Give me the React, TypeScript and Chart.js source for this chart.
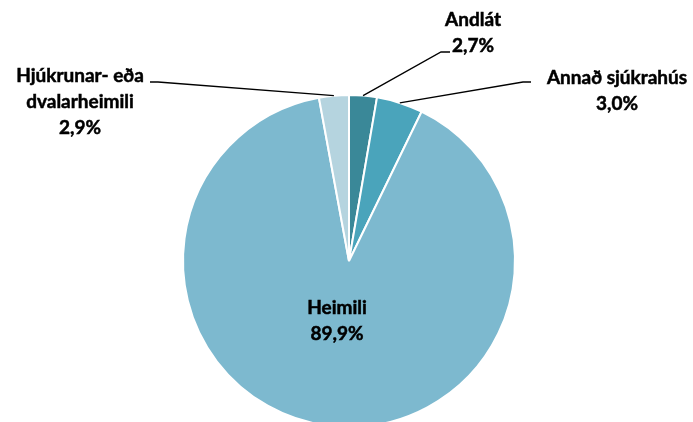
import React, { useEffect, useRef } from "react";
import { Chart, registerables } from "chart.js";

Chart.register(...registerables);

const categories = ["Andlát", "Annað sjúkrahús", "Heimili", "Hjúkrunar- eða dvalarheimili"];
const values = [2.7, 4.5, 89.9, 2.9];
const valueLabels = ["2,7%", "3,0%", "89,9%", "2,9%"];
const labelLines = [["Andlát"], ["Annað sjúkrahús"], ["Heimili"], ["Hjúkrunar- eða", "dvalarheimili"]];
const colors = ["#3a8898", "#4aa4bb", "#7db9cf", "#b5d4df"];

// layout: label block centre (dx, dy from pie centre), elbow & end of leader line
const layout = [
  { tx: 124, ty: -228, line: true, elbow: [92, -209], end: [101, -209] },
  { tx: 268, ty: -170, line: true, elbow: [174, -179], end: [182, -179] },
  { tx: -12, ty: 60, line: false, elbow: [0, 0], end: [0, 0] },
  { tx: -269, ty: -159, line: true, elbow: [-191, -179], end: [-199, -179] },
];

const FONT = "bold 19px Lato, 'Open Sans', sans-serif";
const LINE_H = 26;

const labelPlugin = {
  id: "pieLabels",
  afterDraw(chart: any) {
    const ctx = chart.ctx;
    const meta = chart.getDatasetMeta(0);
    ctx.save();
    meta.data.forEach((arc: any, i: number) => {
      const cx = arc.x;
      const cy = arc.y;
      const r = arc.outerRadius;
      const mid = (arc.startAngle + arc.endAngle) / 2;
      const L = layout[i];
      if (L.line) {
        ctx.beginPath();
        ctx.strokeStyle = "#000";
        ctx.lineWidth = 1.3;
        ctx.moveTo(cx + Math.cos(mid) * r, cy + Math.sin(mid) * r);
        ctx.lineTo(cx + L.elbow[0], cy + L.elbow[1]);
        ctx.lineTo(cx + L.end[0], cy + L.end[1]);
        ctx.stroke();
      }
      const lines = [...labelLines[i], valueLabels[i]];
      ctx.font = FONT;
      ctx.fillStyle = "#000";
      ctx.strokeStyle = "#000";
      ctx.lineWidth = 0.5;
      ctx.textAlign = "center";
      ctx.textBaseline = "middle";
      const startY = cy + L.ty - ((lines.length - 1) * LINE_H) / 2;
      lines.forEach((t, k) => {
        ctx.fillText(t, cx + L.tx, startY + k * LINE_H);
        ctx.strokeText(t, cx + L.tx, startY + k * LINE_H);
      });
    });
    ctx.restore();
  },
};

export default function App() {
  const ref = useRef<HTMLCanvasElement>(null);
  useEffect(() => {
    const chart = new Chart(ref.current!, {
      type: "pie",
      data: {
        labels: categories,
        datasets: [
          {
            data: values,
            backgroundColor: colors,
            borderColor: "#ffffff",
            borderWidth: 2,
          },
        ],
      },
      options: {
        animation: false,
        responsive: false,
        maintainAspectRatio: false,
        layout: { padding: { left: 182, right: 177, top: 94, bottom: 12 } },
        plugins: { legend: { display: false }, tooltip: { enabled: false } },
      },
      plugins: [labelPlugin],
    });
    return () => chart.destroy();
  }, []);
  return (
    <div style={{ position: "fixed", left: 0, top: 0, width: 693, height: 422, overflow: "hidden", background: "#fff" }}>
      <canvas ref={ref} width={693} height={440} style={{ width: 693, height: 440, display: "block" }} />
    </div>
  );
}
